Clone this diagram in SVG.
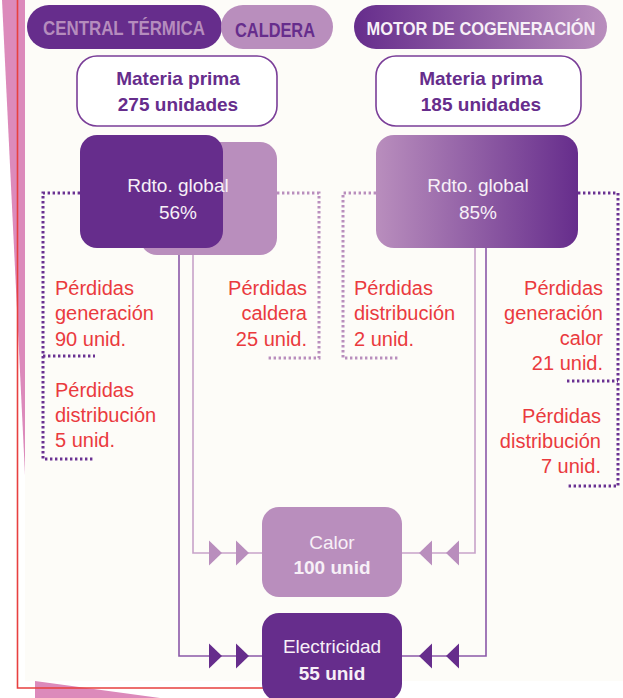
<svg xmlns="http://www.w3.org/2000/svg" width="623" height="698" viewBox="0 0 623 698">
<defs>
<linearGradient id="gMotor" x1="0" y1="0" x2="1" y2="0"><stop offset="0" stop-color="#662d8c"/><stop offset="1" stop-color="#b98ebd"/></linearGradient>
<linearGradient id="gRdto" x1="0" y1="0" x2="1" y2="0"><stop offset="0" stop-color="#b98ebd"/><stop offset="1" stop-color="#662d8c"/></linearGradient>
<style>
.ff{font-family:"Liberation Sans",Arial,sans-serif}
.b{font-weight:bold}
.hdr{font-size:20px;font-weight:bold}
.mp{font-size:19px;font-weight:bold;fill:#662d8c;text-anchor:middle}
.wt{font-size:19px;fill:#f7f0f7;text-anchor:middle}
.red{font-size:20px;fill:#ea3a3e}
.end{text-anchor:end}
.mbox{fill:#ffffff;stroke:#7a3e98;stroke-width:1.6}
.dark{fill:#662d8c}
.light{fill:#b98ebd}
.ldk{fill:none;stroke:#8a58a8;stroke-width:1.6}
.llt{fill:none;stroke:#c7a2c9;stroke-width:1.6}
.ddk{fill:none;stroke:#6a3192;stroke-width:3;stroke-dasharray:2.4 2.6}
.dlt{fill:none;stroke:#b98ebd;stroke-width:3;stroke-dasharray:2.4 2.6}
</style>
</defs>

<g id="background">
<rect x="0" y="0" width="623" height="698" fill="#ffffff"/>
<rect x="25" y="0" width="598" height="681" fill="#fdfcf8"/>
<polygon points="2,0 25,0 25,475" fill="#dc8abb"/>
<polygon points="35,681 160,698 35,698" fill="#dc8abb"/>
<path d="M17.5,0 V688 H270" fill="none" stroke="#e8403f" stroke-width="1.6"/>
</g>

<g id="header-central">
<rect x="27" y="5" width="195" height="44" rx="22" class="dark"/>
<text x="43" y="35" class="ff hdr" fill="#b58cbd" textLength="162" lengthAdjust="spacingAndGlyphs">CENTRAL TÉRMICA</text>
</g>
<g id="header-caldera">
<rect x="221" y="5" width="112" height="44" rx="22" class="light"/>
<text x="235" y="37" class="ff hdr" fill="#662d8c" textLength="80" lengthAdjust="spacingAndGlyphs">CALDERA</text>
</g>
<g id="header-motor">
<rect x="354" y="5" width="253" height="44" rx="22" fill="url(#gMotor)"/>
<text x="481" y="35" class="ff" font-size="18" font-weight="bold" fill="#f7f0f7" text-anchor="middle" textLength="229" lengthAdjust="spacingAndGlyphs">MOTOR DE COGENERACIÓN</text>
</g>

<g id="materia-left">
<rect x="77" y="56" width="200" height="70" rx="20" class="mbox"/>
<text x="178" y="85" class="ff mp">Materia prima</text>
<text x="178" y="111" class="ff mp">275 unidades</text>
</g>
<g id="materia-right">
<rect x="376" y="56" width="205" height="70" rx="20" class="mbox"/>
<text x="481" y="85" class="ff mp">Materia prima</text>
<text x="481" y="111" class="ff mp">185 unidades</text>
</g>

<g id="connectors">
<path d="M179,248 V656 H262" class="ldk"/>
<path d="M193,255 V553 H262" class="llt"/>
<path d="M475,248 V553 H402" class="llt"/>
<path d="M486,248 V656 H402" class="ldk"/>
<polygon points="209,540.5 222,553 209,565.5" class="light"/>
<polygon points="236,540.5 249,553 236,565.5" class="light"/>
<polygon points="432,540.5 419,553 432,565.5" class="light"/>
<polygon points="459,540.5 446,553 459,565.5" class="light"/>
<polygon points="209,643.5 222,656 209,668.5" class="dark"/>
<polygon points="236,643.5 249,656 236,668.5" class="dark"/>
<polygon points="432,643.5 419,656 432,668.5" class="dark"/>
<polygon points="459,643.5 446,656 459,668.5" class="dark"/>
<path d="M80,193 H43 V459 H95 M43,356 H95" class="ddk"/>
<path d="M277,193 H319 V358 H268" class="dlt"/>
<path d="M376,193 H343 V358 H398" class="dlt"/>
<path d="M578,193 H618 V486 H567 M567,381 H618" class="ddk"/>
</g>

<g id="rdto-left">
<rect x="140" y="142" width="137" height="113" rx="17" class="light"/>
<rect x="80" y="135" width="143" height="113" rx="17" class="dark"/>
<text x="178" y="192" class="ff wt">Rdto. global</text>
<text x="178" y="219" class="ff wt">56%</text>
</g>
<g id="rdto-right">
<rect x="376" y="135" width="202" height="113" rx="18" fill="url(#gRdto)"/>
<text x="478" y="192" class="ff wt">Rdto. global</text>
<text x="478" y="219" class="ff wt">85%</text>
</g>

<g id="perdidas-generacion">
<text class="ff red"><tspan x="55" y="295">Pérdidas</tspan><tspan x="55" y="320">generación</tspan><tspan x="55" y="346">90 unid.</tspan></text>
</g>
<g id="perdidas-distribucion-5">
<text class="ff red"><tspan x="55" y="397">Pérdidas</tspan><tspan x="55" y="422">distribución</tspan><tspan x="55" y="447">5 unid.</tspan></text>
</g>
<g id="perdidas-caldera">
<text class="ff red end"><tspan x="307" y="295">Pérdidas</tspan><tspan x="307" y="320">caldera</tspan><tspan x="307" y="346">25 unid.</tspan></text>
</g>
<g id="perdidas-distribucion-2">
<text class="ff red"><tspan x="354" y="295">Pérdidas</tspan><tspan x="354" y="320">distribución</tspan><tspan x="354" y="346">2 unid.</tspan></text>
</g>
<g id="perdidas-generacion-calor">
<text class="ff red end"><tspan x="603" y="295">Pérdidas</tspan><tspan x="603" y="320">generación</tspan><tspan x="603" y="345">calor</tspan><tspan x="603" y="370">21 unid.</tspan></text>
</g>
<g id="perdidas-distribucion-7">
<text class="ff red end"><tspan x="601" y="423">Pérdidas</tspan><tspan x="601" y="448">distribución</tspan><tspan x="601" y="473">7 unid.</tspan></text>
</g>

<g id="calor">
<rect x="262" y="507" width="140" height="90" rx="17" class="light"/>
<text x="332" y="549" class="ff wt">Calor</text>
<text x="332" y="574" class="ff wt b">100 unid</text>
</g>
<g id="electricidad">
<rect x="262" y="613" width="140" height="88" rx="17" class="dark"/>
<text x="332" y="653" class="ff wt">Electricidad</text>
<text x="332" y="680" class="ff wt b">55 unid</text>
</g>
</svg>
